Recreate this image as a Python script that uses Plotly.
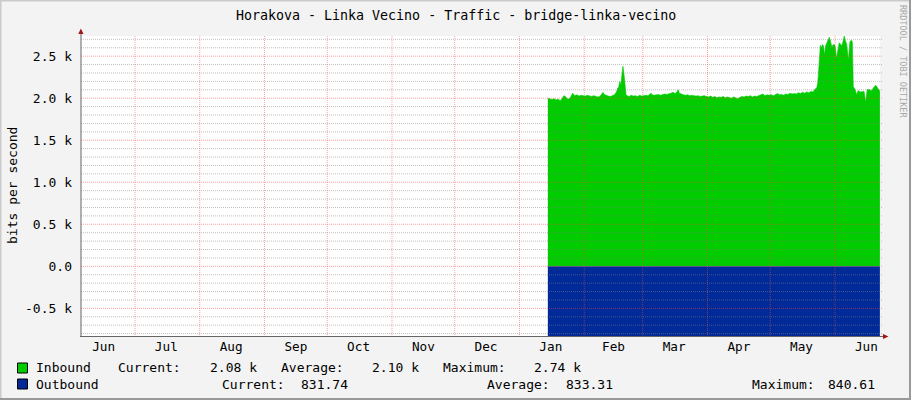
import plotly.graph_objects as go

# ---------------- data ----------------
in_time = [
    "2013-01-14 14:00", "2013-01-15 12:00", "2013-01-16 12:00", "2013-01-17 12:00", "2013-01-18 12:00",
    "2013-01-19 12:00", "2013-01-20 12:00", "2013-01-21 12:00", "2013-01-22 06:00", "2013-01-23 00:00",
    "2013-01-24 00:00", "2013-01-25 00:00", "2013-01-26 00:00", "2013-01-26 12:00", "2013-01-27 12:00",
    "2013-01-28 12:00", "2013-01-29 12:00", "2013-01-30 12:00", "2013-01-31 12:00", "2013-02-01 12:00",
    "2013-02-02 12:00", "2013-02-03 12:00", "2013-02-04 12:00", "2013-02-05 12:00", "2013-02-06 12:00",
    "2013-02-07 12:00", "2013-02-08 12:00", "2013-02-09 12:00", "2013-02-10 00:00", "2013-02-10 12:00",
    "2013-02-11 12:00", "2013-02-12 12:00", "2013-02-13 12:00", "2013-02-14 12:00", "2013-02-15 12:00",
    "2013-02-16 12:00", "2013-02-17 00:00", "2013-02-17 12:00", "2013-02-18 00:00", "2013-02-18 12:00",
    "2013-02-19 00:00", "2013-02-19 12:00", "2013-02-20 00:00", "2013-02-20 12:00", "2013-02-21 00:00",
    "2013-02-21 12:00", "2013-02-22 12:00", "2013-02-23 12:00", "2013-02-24 12:00", "2013-02-25 12:00",
    "2013-02-26 12:00", "2013-02-27 12:00", "2013-02-28 12:00", "2013-03-01 12:00", "2013-03-02 12:00",
    "2013-03-03 12:00", "2013-03-04 12:00", "2013-03-05 00:00", "2013-03-05 12:00", "2013-03-06 12:00",
    "2013-03-07 12:00", "2013-03-08 12:00", "2013-03-09 12:00", "2013-03-10 12:00", "2013-03-11 12:00",
    "2013-03-12 12:00", "2013-03-13 12:00", "2013-03-14 12:00", "2013-03-15 12:00", "2013-03-16 12:00",
    "2013-03-17 12:00", "2013-03-18 00:00", "2013-03-18 12:00", "2013-03-19 12:00", "2013-03-20 12:00",
    "2013-03-21 12:00", "2013-03-22 12:00", "2013-03-23 12:00", "2013-03-24 12:00", "2013-03-25 12:00",
    "2013-03-26 12:00", "2013-03-27 12:00", "2013-03-28 12:00", "2013-03-29 12:00", "2013-03-30 12:00",
    "2013-03-31 12:00", "2013-04-01 12:00", "2013-04-02 12:00", "2013-04-03 12:00", "2013-04-04 12:00",
    "2013-04-05 12:00", "2013-04-06 12:00", "2013-04-07 12:00", "2013-04-08 12:00", "2013-04-09 12:00",
    "2013-04-10 12:00", "2013-04-11 12:00", "2013-04-12 12:00", "2013-04-13 12:00", "2013-04-14 12:00",
    "2013-04-15 12:00", "2013-04-16 12:00", "2013-04-17 12:00", "2013-04-18 12:00", "2013-04-19 12:00",
    "2013-04-20 12:00", "2013-04-21 12:00", "2013-04-22 12:00", "2013-04-23 12:00", "2013-04-24 12:00",
    "2013-04-25 12:00", "2013-04-26 12:00", "2013-04-27 12:00", "2013-04-28 12:00", "2013-04-29 12:00",
    "2013-04-30 12:00", "2013-05-01 12:00", "2013-05-02 12:00", "2013-05-03 12:00", "2013-05-04 12:00",
    "2013-05-05 12:00", "2013-05-06 12:00", "2013-05-07 12:00", "2013-05-08 12:00", "2013-05-09 12:00",
    "2013-05-10 12:00", "2013-05-11 12:00", "2013-05-12 12:00", "2013-05-13 12:00", "2013-05-14 12:00",
    "2013-05-15 12:00", "2013-05-16 12:00", "2013-05-17 12:00", "2013-05-18 12:00", "2013-05-19 12:00",
    "2013-05-20 12:00", "2013-05-21 12:00", "2013-05-22 12:00", "2013-05-23 06:00", "2013-05-23 18:00",
    "2013-05-24 00:00", "2013-05-24 12:00", "2013-05-25 00:00", "2013-05-25 12:00", "2013-05-26 00:00",
    "2013-05-26 12:00", "2013-05-27 00:00", "2013-05-27 12:00", "2013-05-28 00:00", "2013-05-28 12:00",
    "2013-05-29 06:00", "2013-05-29 18:00", "2013-05-30 12:00", "2013-05-31 06:00", "2013-06-01 00:00",
    "2013-06-01 18:00", "2013-06-02 12:00", "2013-06-03 00:00", "2013-06-03 18:00", "2013-06-04 06:00",
    "2013-06-05 00:00", "2013-06-05 10:00", "2013-06-06 00:00", "2013-06-06 14:00", "2013-06-07 10:00",
    "2013-06-08 04:00", "2013-06-09 00:00", "2013-06-09 08:00", "2013-06-09 18:00", "2013-06-10 14:00",
    "2013-06-11 10:00", "2013-06-12 02:00", "2013-06-13 00:00", "2013-06-13 20:00", "2013-06-14 22:00",
    "2013-06-15 16:00", "2013-06-16 10:00", "2013-06-17 16:00", "2013-06-18 12:00", "2013-06-19 08:00",
    "2013-06-20 12:00", "2013-06-21 10:00", "2013-06-22 12:00",
]
in_bps = [
    2000, 1990, 1985, 1995, 1980,
    1990, 1970, 2000, 2030, 2020,
    1990, 1995, 2030, 2060, 2030,
    2040, 2025, 2035, 2030, 2025,
    2035, 2030, 2020, 2030, 2025,
    2015, 2020, 2050, 2070, 2045,
    2030, 2025, 2020, 2030, 2040,
    2080, 2120, 2130, 2200, 2160,
    2260, 2380, 2290, 2150, 2045,
    2030, 2020, 2035, 2025, 2030,
    2020, 2035, 2025, 2030, 2035,
    2030, 2045, 2060, 2040, 2035,
    2040, 2045, 2035, 2040, 2050,
    2045, 2050, 2060, 2070, 2055,
    2080, 2100, 2060, 2045, 2040,
    2035, 2040, 2030, 2035, 2030,
    2025, 2030, 2020, 2025, 2030,
    2020, 2015, 2025, 2010, 2020,
    2005, 2015, 2010, 2020, 2005,
    2015, 2010, 2000, 2015, 2005,
    1995, 2010, 2020, 2015, 2025,
    2020, 2030, 2015, 2025, 2020,
    2030, 2035, 2050, 2030, 2040,
    2035, 2040, 2030, 2045, 2055,
    2040, 2045, 2035, 2050, 2045,
    2060, 2050, 2055, 2050, 2065,
    2055, 2070, 2060, 2075, 2065,
    2080, 2075, 2110, 2120, 2180,
    2260, 2480, 2630, 2600, 2640,
    2620, 2515, 2620, 2655, 2680,
    2725, 2690, 2610, 2640, 2630,
    2475, 2600, 2660, 2640, 2620,
    2690, 2740, 2680, 2645, 2455,
    2675, 2690, 2660, 2140, 2105,
    2040, 2090, 2075, 2080, 2080,
    1950, 2105, 2100, 2090, 2120,
    2155, 2120, 2080,
]

out_time = [
    "2013-01-14 14:00", "2013-01-19 12:00", "2013-01-24 12:00", "2013-01-29 12:00", "2013-02-03 12:00",
    "2013-02-08 12:00", "2013-02-13 12:00", "2013-02-18 12:00", "2013-02-23 12:00", "2013-02-28 12:00",
    "2013-03-05 12:00", "2013-03-10 12:00", "2013-03-15 12:00", "2013-03-20 12:00", "2013-03-25 12:00",
    "2013-03-30 12:00", "2013-04-04 12:00", "2013-04-09 12:00", "2013-04-14 12:00", "2013-04-19 12:00",
    "2013-04-24 12:00", "2013-04-29 12:00", "2013-05-04 12:00", "2013-05-09 12:00", "2013-05-14 12:00",
    "2013-05-19 12:00", "2013-05-24 12:00", "2013-05-29 12:00", "2013-06-03 12:00", "2013-06-08 12:00",
    "2013-06-13 12:00", "2013-06-18 12:00", "2013-06-22 12:00",
]
out_bps = [
    833.5, 832.8, 834.1, 833.0, 832.6,
    833.9, 834.4, 833.2, 832.9, 833.7,
    834.0, 833.1, 832.7, 833.6, 834.2,
    833.3, 832.5, 833.8, 840.61, 833.4,
    832.9, 833.6, 834.0, 833.1, 832.8,
    833.5, 833.9, 833.2, 832.7, 833.4,
    833.0, 832.6, 831.74,
]

x_range = ["2012-06-05 04:00", "2013-06-22 13:00"]
y_range = [-840.61, 2740]

month_label_pos = [
    "2012-06-16", "2012-07-16", "2012-08-16", "2012-09-16", "2012-10-16", "2012-11-16",
    "2012-12-16", "2013-01-16", "2013-02-15", "2013-03-16", "2013-04-16", "2013-05-16", "2013-06-16",
]
month_labels = ["Jun", "Jul", "Aug", "Sep", "Oct", "Nov", "Dec", "Jan", "Feb", "Mar", "Apr", "May", "Jun"]
month_starts = [
    "2012-07-01", "2012-08-01", "2012-09-01", "2012-10-01", "2012-11-01", "2012-12-01",
    "2013-01-01", "2013-02-01", "2013-03-01", "2013-04-01", "2013-05-01", "2013-06-01",
]
y_ticks = [-500, 0, 500, 1000, 1500, 2000, 2500]
y_tick_labels = ["-0.5 k", "0.0", "0.5 k", "1.0 k", "1.5 k", "2.0 k", "2.5 k"]
y_minor = [v for v in range(-800, 2800, 100) if v % 500 != 0]

# ---------------- layout helpers ----------------
W, H = 911, 400
L, R, T, B = 81, 880, 36, 337  # plot area in pixels

def px(x):
    return (x - L) / (R - L)

def py(y):
    return (B - y) / (B - T)

FONT = "DejaVu Sans Mono"
GREEN = "#00CC00"
BLUE = "#002A97"
MINOR = "rgba(130,130,130,0.5)"
MAJOR = "rgba(255,70,70,0.5)"

fig = go.Figure()
fig.add_trace(go.Scatter(
    x=in_time, y=in_bps, mode="lines", fill="tozeroy",
    line=dict(color=GREEN, width=0.6), fillcolor=GREEN, hoverinfo="skip",
))
fig.add_trace(go.Scatter(
    x=out_time, y=[-v for v in out_bps], mode="lines", fill="tozeroy",
    line=dict(color=BLUE, width=0.6), fillcolor=BLUE, hoverinfo="skip",
))

shapes = []
# grid above the data (RRDtool style)
for v in y_minor:
    shapes.append(dict(type="line", xref="paper", yref="y", x0=0, x1=px(882), y0=v, y1=v,
                       line=dict(color=MINOR, width=1, dash="1px,1px"), layer="above"))
for v in y_ticks:
    shapes.append(dict(type="line", xref="paper", yref="y", x0=0, x1=px(882), y0=v, y1=v,
                       line=dict(color=MAJOR, width=1, dash="1px,1px"), layer="above"))
for d in month_starts:
    shapes.append(dict(type="line", xref="x", yref="paper", x0=d, x1=d, y0=0, y1=1,
                       line=dict(color=MAJOR, width=1, dash="1px,1px"), layer="above"))

# axes lines with arrows
AX = "#666666"
ARROW = "#A01515"
shapes.append(dict(type="line", xref="paper", yref="paper", x0=px(81), x1=px(81), y0=py(337), y1=py(31),
                   line=dict(color=AX, width=1), layer="above"))
shapes.append(dict(type="line", xref="paper", yref="paper", x0=px(80), x1=px(884), y0=py(336.5), y1=py(336.5),
                   line=dict(color=AX, width=1), layer="above"))
shapes.append(dict(type="path", xref="paper", yref="paper",
                   path=f"M {px(78.3)},{py(34)} L {px(83.5)},{py(34)} L {px(80.9)},{py(28.5)} Z",
                   fillcolor=ARROW, line=dict(width=0), layer="above"))
shapes.append(dict(type="path", xref="paper", yref="paper",
                   path=f"M {px(883)},{py(334)} L {px(883)},{py(339)} L {px(888.5)},{py(336.5)} Z",
                   fillcolor=ARROW, line=dict(width=0), layer="above"))

# legend squares
shapes.append(dict(type="rect", xref="paper", yref="paper", x0=px(17.5), x1=px(27.5), y0=py(373), y1=py(363),
                   fillcolor=GREEN, line=dict(color="#000000", width=1)))
shapes.append(dict(type="rect", xref="paper", yref="paper", x0=px(17.5), x1=px(27.5), y0=py(389), y1=py(379),
                   fillcolor=BLUE, line=dict(color="#000000", width=1)))

# image frame
shapes.append(dict(type="line", xref="paper", yref="paper", x0=px(0), x1=px(911), y0=py(0.5), y1=py(0.5),
                   line=dict(color="#CBCBCB", width=2)))
shapes.append(dict(type="line", xref="paper", yref="paper", x0=px(0.5), x1=px(0.5), y0=py(0), y1=py(400),
                   line=dict(color="#CBCBCB", width=2)))
shapes.append(dict(type="line", xref="paper", yref="paper", x0=px(0), x1=px(911), y0=py(399), y1=py(399),
                   line=dict(color="#999999", width=2)))
shapes.append(dict(type="line", xref="paper", yref="paper", x0=px(910), x1=px(910), y0=py(0), y1=py(400),
                   line=dict(color="#999999", width=2)))

def txt(x, y, s, size=13, anchor="left", color="#000000", angle=0):
    return dict(xref="paper", yref="paper", x=px(x), y=py(y), text=s, showarrow=False,
                xanchor=anchor, yanchor="middle", textangle=angle,
                font=dict(family=FONT, size=size, color=color))

annotations = [
    txt(455.5, 15, "Horakova - Linka Vecino - Traffic - bridge-linka-vecino", size=13.3, anchor="center"),
    txt(12, 186, "bits per second", size=13, anchor="center", angle=-90),
    txt(903, 61, "RRDTOOL / TOBI OETIKER", size=8.5, anchor="center", color="#A8A8A8", angle=90),
    txt(34, 368, "Inbound"),
    txt(116, 368, "Current:"),
    txt(259, 368, "2.08 k", anchor="right"),
    txt(279, 368, "Average:"),
    txt(421, 368, "2.10 k", anchor="right"),
    txt(441, 368, "Maximum:"),
    txt(583, 368, "2.74 k", anchor="right"),
    txt(34, 384, "Outbound"),
    txt(220, 384, "Current:"),
    txt(299, 384, "831.74"),
    txt(485, 384, "Average:"),
    txt(564, 384, "833.31"),
    txt(750, 384, "Maximum:"),
    txt(877, 384, "840.61", anchor="right"),
]

fig.update_layout(
    width=W, height=H,
    margin=dict(l=L, r=W - R, t=T, b=H - B, pad=0),
    paper_bgcolor="#F3F3F3", plot_bgcolor="#FFFFFF",
    showlegend=False,
    shapes=shapes, annotations=annotations,
    font=dict(family=FONT, size=13, color="#000000"),
    xaxis=dict(type="date", range=x_range, showgrid=False, zeroline=False, showline=False,
               tickmode="array", tickvals=month_label_pos, ticktext=month_labels,
               ticks="", ticklabelstandoff=0, tickfont=dict(family=FONT, size=12.7)),
    yaxis=dict(range=y_range, showgrid=False, zeroline=False, showline=False,
               tickmode="array", tickvals=y_ticks, ticktext=y_tick_labels,
               ticks="", ticklabelstandoff=8, tickfont=dict(family=FONT, size=13)),
)

fig.write_html("out.html", config={"displayModeBar": False},
               post_script="document.body.style.margin='0px';document.body.style.padding='0px';")
